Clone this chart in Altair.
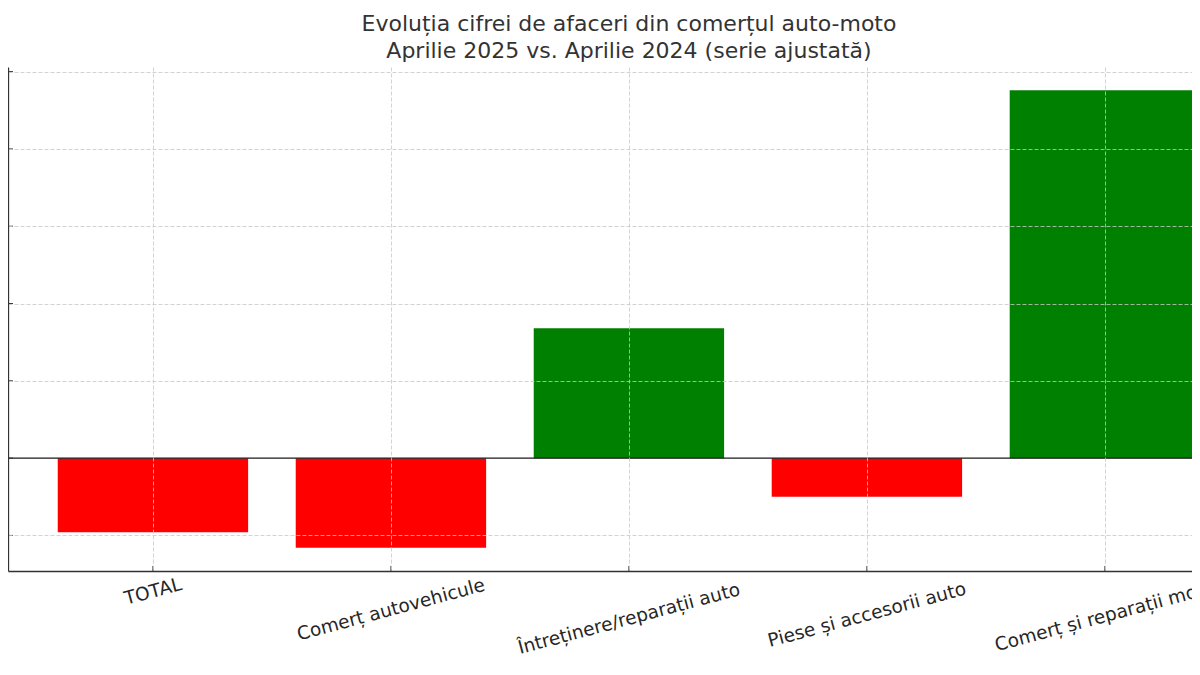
import altair as alt
import pandas as pd

categories = [
    "TOTAL",
    "Comerț autovehicule",
    "Întreținere/reparații auto",
    "Piese și accesorii auto",
    "Comerț și reparații moto",
]
values = [-4.8, -5.8, 8.4, -2.5, 23.8]
y_ticks = [-5, 0, 5, 10, 15, 20, 25]
title_lines = [
    "Evoluția cifrei de afaceri din comerțul auto-moto",
    "Aprilie 2025 vs. Aprilie 2024 (serie ajustată)",
]

W, H = 1184, 504
YMIN, YMAX = -7.3, 25.3
XMIN, XMAX = -0.609, 4.366

df = pd.DataFrame({"cat": categories, "val": values, "idx": list(range(len(categories)))})

xs = alt.Scale(domain=[XMIN, XMAX], nice=False, zero=False)
ys = alt.Scale(domain=[YMIN, YMAX], nice=False, zero=False)

grid_kw = dict(grid=True, gridDash=[4, 2], gridColor="#c8c8c8", gridWidth=0.8,
               domainColor="#333333", domainWidth=1.3, labels=False, ticks=False,
               title=None, zindex=1)

base = alt.Chart(df)

bars = base.transform_calculate(
    x0="datum.idx - 0.4", x1="datum.idx + 0.4"
).mark_bar(clip=True).encode(
    x=alt.X("x0:Q", scale=xs, axis=alt.Axis(values=[0, 1, 2, 3, 4], **grid_kw)),
    x2="x1:Q",
    y=alt.Y("val:Q", scale=ys,
            axis=alt.Axis(values=[t for t in y_ticks if t != 0], **grid_kw)),
    y2=alt.datum(0),
    color=alt.condition("datum.val >= 0", alt.value("#008000"), alt.value("#ff0000")),
)

zero = alt.Chart(pd.DataFrame({"z": [0]})).mark_rule(color="#1a1a1a", strokeWidth=1.3).encode(
    y=alt.Y("z:Q", scale=ys)
)

xticks = base.mark_rule(color="#333333", strokeWidth=1).encode(
    x=alt.X("idx:Q", scale=xs), y=alt.value(H - 5), y2=alt.value(H)
)

yticks = alt.Chart(pd.DataFrame({"t": y_ticks})).mark_rule(color="#333333", strokeWidth=1).encode(
    y=alt.Y("t:Q", scale=ys), x=alt.value(0), x2=alt.value(5)
)

px_per_unit = H / (YMAX - YMIN)
labels = base.transform_calculate(
    ly=f"{YMIN} - (7 + (length(datum.cat) * 10 * 0.2588 + 14) / 2) / {px_per_unit}"
).mark_text(
    angle=345, align="center", baseline="middle", font="DejaVu Sans",
    fontSize=18.5, color="#262626"
).encode(
    x=alt.X("idx:Q", scale=xs),
    y=alt.Y("ly:Q", scale=ys),
    text="cat:N",
)

chart = alt.layer(bars, zero, xticks, yticks, labels).properties(
    width=W,
    height=H,
    autosize=alt.AutoSizeParams(type="none"),
    padding={"left": 0, "right": 0, "top": 59, "bottom": 96},
    background="white",
    title=alt.TitleParams(
        title_lines, font="DejaVu Sans", fontSize=22, fontWeight="normal",
        color="#333333", lineHeight=27, anchor="middle", dx=29, offset=4,
    ),
).configure_view(stroke=None)

chart.save("out.html", embed_options={"renderer": "svg", "actions": False})
